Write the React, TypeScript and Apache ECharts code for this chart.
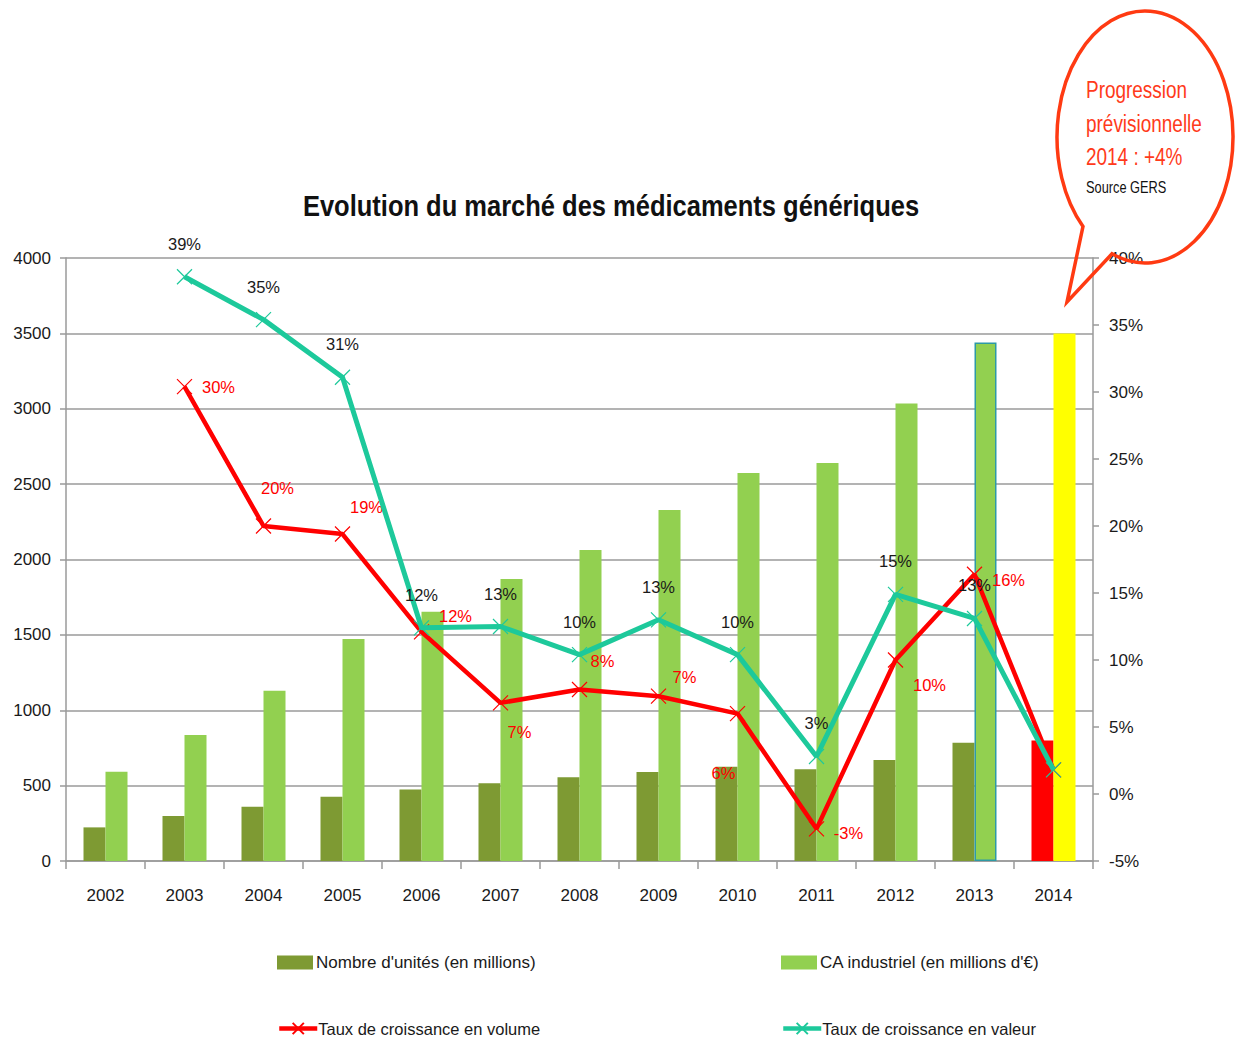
import React, { useEffect, useRef } from "react";
import * as echarts from "echarts";

const years = ["2002", "2003", "2004", "2005", "2006", "2007", "2008", "2009", "2010", "2011", "2012", "2013", "2014"];
const unitsValues = [223, 298, 360, 427, 475, 515, 555, 590, 625, 608, 670, 785, 800];
const caValues = [592, 836, 1130, 1473, 1654, 1871, 2063, 2328, 2574, 2640, 3035, 3440, 3500];
const volumeGrowth = [null, 30.4, 20.0, 19.4, 12.1, 6.8, 7.8, 7.3, 6.0, -2.6, 10.0, 16.4, 1.8];
const valueGrowth = [null, 38.6, 35.4, 31.1, 12.4, 12.5, 10.4, 13.0, 10.4, 2.8, 14.9, 13.1, 1.8];
const leftTicks = { min: 0, max: 4000, interval: 500 };
const rightTicks = { min: -5, max: 40, interval: 5 };

// label placement (style only)
const volumeLabelOffsets: (number[] | null)[] = [null, [34, 0], [14, -38], [24, -27], [34, -16], [19, 29], [23, -28], [26, -19], [-14, 59], [32, 4], [34, 25], [34, 6], null];

const TITLE = "Evolution du marché des médicaments génériques";
const SERIES_NAMES = ["Nombre d'unités (en millions)", "CA industriel (en millions d'€)", "Taux de croissance en volume", "Taux de croissance en valeur"];
const BUBBLE_LINES = ["Progression", "prévisionnelle", "2014 : +4%"];
const BUBBLE_SOURCE = "Source GERS";

const DARK = "#7E9A33";
const LIGHT = "#92D050";
const RED = "#FF0000";
const TEAL = "#1DC99B";
const GRID = "#9A9A9A";
const FONT = "Liberation Sans, Arial, sans-serif";
const XSYM = "path://M0 0L20 20M20 0L0 20";

echarts.graphic.registerShape(
  "bubble",
  echarts.graphic.extendPath("M 1083 226.4 A 88 126 0 1 1 1112 253.8 L 1067 302 Z", {})
);

export default function App() {
  const ref = useRef<HTMLDivElement>(null);
  useEffect(() => {
    if (!ref.current) return;
    const chart = echarts.init(ref.current, null, { renderer: "svg" });
    const lastIdx = years.length - 1;
    const legendText = { fontFamily: FONT, fontSize: 17, color: "#1a1a1a" };
    const legendText2 = { fontFamily: FONT, fontSize: 16.5, color: "#1a1a1a" };
    const option: any = {
      animation: false,
      backgroundColor: "#ffffff",
      grid: { left: 66, right: 145, top: 258, bottom: 178, containLabel: false },
      xAxis: {
        type: "category",
        data: years,
        boundaryGap: true,
        axisLine: { lineStyle: { color: GRID, width: 1.5 } },
        axisTick: { show: true, length: 8, lineStyle: { color: GRID, width: 1.5 } },
        axisLabel: { color: "#1a1a1a", fontFamily: FONT, fontSize: 17, margin: 26 },
      },
      yAxis: [
        {
          type: "value",
          ...leftTicks,
          axisLine: { show: true, lineStyle: { color: GRID, width: 1.5 } },
          axisTick: { show: true, length: 6, lineStyle: { color: GRID, width: 1.5 } },
          splitLine: { show: true, lineStyle: { color: GRID, width: 1.5 } },
          axisLabel: { color: "#1a1a1a", fontFamily: FONT, fontSize: 17, margin: 15, formatter: (v: number) => String(v) },
        },
        {
          type: "value",
          ...rightTicks,
          position: "right",
          axisLine: { show: true, lineStyle: { color: GRID, width: 1.5 } },
          axisTick: { show: true, length: 6, lineStyle: { color: GRID, width: 1.5 } },
          splitLine: { show: false },
          axisLabel: { color: "#1a1a1a", fontFamily: FONT, fontSize: 17, margin: 16, formatter: "{value}%" },
        },
      ],
      legend: [
        {
          data: [{ name: SERIES_NAMES[0], icon: "rect" }],
          left: 272, top: 949, itemWidth: 36, itemHeight: 14,
          textStyle: { ...legendText, padding: [0, 0, 0, -2] },
        },
        {
          data: [{ name: SERIES_NAMES[1], icon: "rect" }],
          left: 776, top: 949, itemWidth: 36, itemHeight: 14,
          textStyle: { ...legendText, padding: [0, 0, 0, -2] },
        },
        {
          data: [SERIES_NAMES[2]],
          left: 272, top: 1015, itemWidth: 38, itemHeight: 14,
          lineStyle: { width: 4.5 },
          textStyle: { ...legendText2, padding: [0, 0, 0, -4] },
        },
        {
          data: [SERIES_NAMES[3]],
          left: 776, top: 1015, itemWidth: 38, itemHeight: 14,
          lineStyle: { width: 4.5 },
          textStyle: { ...legendText2, padding: [0, 0, 0, -4] },
        },
      ],
      series: [
        {
          name: SERIES_NAMES[0],
          type: "bar",
          yAxisIndex: 0,
          barWidth: 22,
          barGap: "0%",
          itemStyle: { color: DARK },
          data: unitsValues.map((v, i) => (i === lastIdx ? { value: v, itemStyle: { color: RED } } : v)),
        },
        {
          name: SERIES_NAMES[1],
          type: "bar",
          yAxisIndex: 0,
          barWidth: 22,
          barGap: "0%",
          itemStyle: { color: LIGHT },
          data: caValues.map((v, i) =>
            i === lastIdx
              ? { value: v, itemStyle: { color: "#FFFF00" } }
              : i === lastIdx - 1
              ? { value: v, itemStyle: { color: LIGHT, borderColor: "#2E9AA5", borderWidth: 1.5 } }
              : v
          ),
        },
        {
          name: SERIES_NAMES[2],
          type: "line",
          yAxisIndex: 1,
          symbol: XSYM,
          symbolSize: 15,
          lineStyle: { color: RED, width: 4.5 },
          itemStyle: { color: RED, borderColor: RED, borderWidth: 1.2 },
          z: 3,
          data: volumeGrowth.map((v, i) => {
            const off = volumeLabelOffsets[i];
            return {
              value: v,
              label: off
                ? { show: true, position: "inside", offset: off, formatter: Math.round(v as number) + "%" }
                : { show: false },
            };
          }),
          label: { color: RED, fontFamily: FONT, fontSize: 16.5 },
        },
        {
          name: SERIES_NAMES[3],
          type: "line",
          yAxisIndex: 1,
          symbol: XSYM,
          symbolSize: 15,
          lineStyle: { color: TEAL, width: 5 },
          itemStyle: { color: TEAL, borderColor: TEAL, borderWidth: 1.2 },
          z: 4,
          data: valueGrowth.map((v, i) => ({
            value: v,
            label:
              v === null || i === lastIdx
                ? { show: false }
                : { show: true, position: "inside", offset: [0, -33], formatter: Math.round(v as number) + "%" },
          })),
          label: { color: "#1a1a1a", fontFamily: FONT, fontSize: 16.5 },
        },
      ],
      graphic: [
        {
          type: "text",
          x: 611,
          y: 206,
          scaleX: 0.85,
          style: {
            text: TITLE,
            fill: "#111",
            font: "bold 30px " + FONT,
            textAlign: "center",
            textVerticalAlign: "middle",
          },
        },
        {
          type: "bubble",
          x: 0,
          y: 0,
          z: 1,
          style: { fill: "none", stroke: "#FF3A12", lineWidth: 3.5 },
        },
        ...BUBBLE_LINES.map((t, i) => ({
          type: "text",
          x: 1086,
          y: 90 + i * 33.5,
          z: 2,
          scaleX: 0.79,
          style: {
            text: t,
            fill: "#FF3A1A",
            font: "24px " + FONT,
            textAlign: "left",
            textVerticalAlign: "middle",
          },
        })),
        {
          type: "text",
          x: 1086,
          y: 187,
          z: 2,
          scaleX: 0.8,
          style: {
            text: BUBBLE_SOURCE,
            fill: "#111",
            font: "16px " + FONT,
            textAlign: "left",
            textVerticalAlign: "middle",
          },
        },
      ],
    };
    chart.setOption(option);
    return () => chart.dispose();
  }, []);
  return (
    <div
      ref={ref}
      style={{ position: "fixed", left: 0, top: 0, width: 1238, height: 1039, background: "#fff" }}
    />
  );
}
